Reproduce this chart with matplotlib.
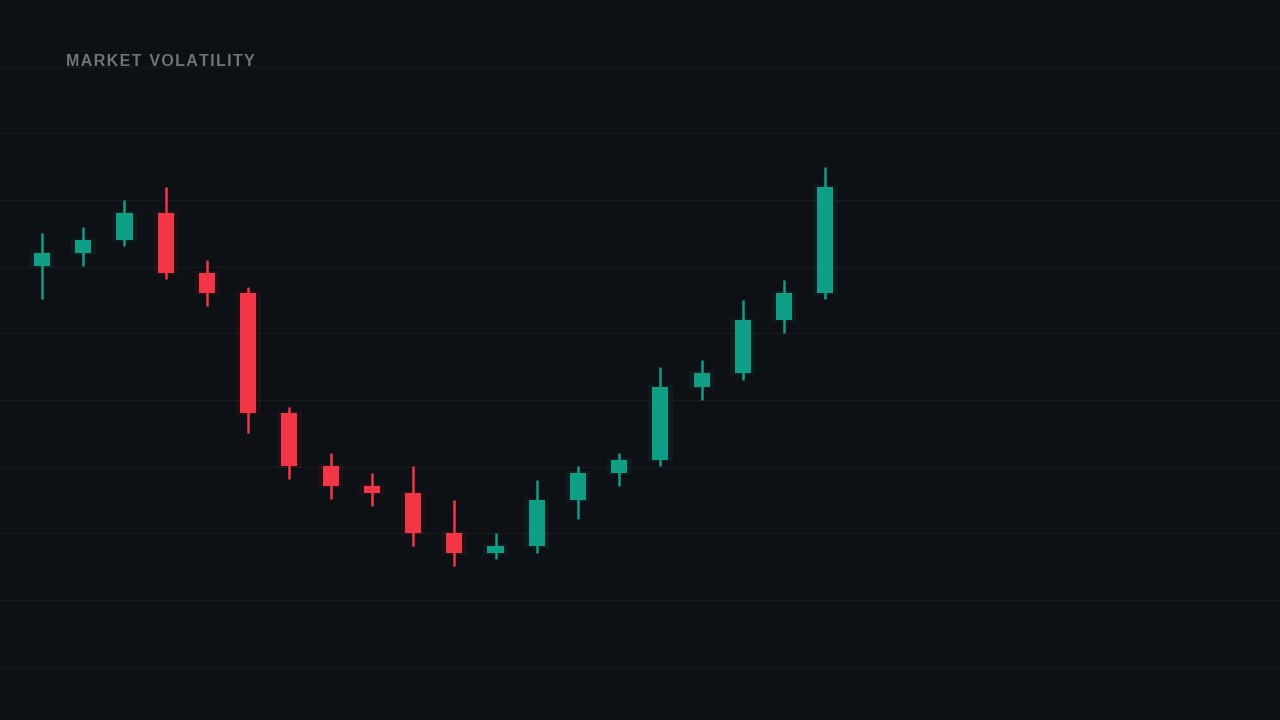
import matplotlib
matplotlib.use("Agg")
import matplotlib.pyplot as plt

opens  = [68.1, 70.0, 72.0, 76.0, 67.0, 64.0, 46.0, 38.1, 35.1, 34.0, 28.0, 25.0, 26.1, 33.0, 37.0, 39.0, 50.0, 52.0, 60.0, 64.0]
closes = [70.0, 72.0, 76.0, 67.0, 64.0, 46.0, 38.1, 35.1, 34.0, 28.0, 25.0, 26.1, 33.0, 37.0, 39.0, 50.0, 52.0, 60.0, 64.0, 80.0]
highs  = [73.0, 74.0, 78.0, 80.0, 69.0, 65.0, 47.0, 40.0, 37.0, 38.1, 33.0, 28.0, 36.0, 38.1, 40.0, 53.0, 54.0, 63.0, 66.0, 83.0]
lows   = [63.1, 68.1, 71.1, 66.1, 62.1, 43.0, 36.1, 33.1, 32.1, 26.1, 23.1, 24.1, 25.0, 30.1, 35.1, 38.1, 48.0, 51.0, 58.0, 63.1]

bg = "#0d1014"
green = "#0f9e86"
red = "#f23645"

fig = plt.figure(figsize=(12.8, 7.2), dpi=100, facecolor=bg)
ax = fig.add_axes([0, 0, 1, 1])
ax.set_facecolor(bg)

for i, (o, c, h, l) in enumerate(zip(opens, closes, highs, lows)):
    x = i + 1
    col = green if c >= o else red
    ax.vlines(x, l, h, color=col, linewidth=1.8, zorder=3)
    ax.bar(x, abs(c - o), bottom=min(o, c), width=0.39, color=col, zorder=4)
    # soft glow
    ax.bar(x, abs(c - o) + 0.6, bottom=min(o, c) - 0.3, width=0.6, color=col, alpha=0.08, zorder=2)

ax.set_xlim(-0.02, 1280 / 41.25)
ax.set_ylim(0, 108)
for g in range(8, 108, 10):
    ax.axhline(g, color="#161a1f", linewidth=1, zorder=1)
ax.axis("off")

fig.text(66 / 1280, 1 - 61 / 720, "M A R K E T   V O L A T I L I T Y".replace("   ", "\u2002").replace(" ", "\u200a"),
         color="#707378", fontsize=11.5, fontweight="bold", va="center", ha="left",
         family=["Liberation Sans", "DejaVu Sans"])

fig.savefig("out.png", dpi=100, facecolor=bg)
